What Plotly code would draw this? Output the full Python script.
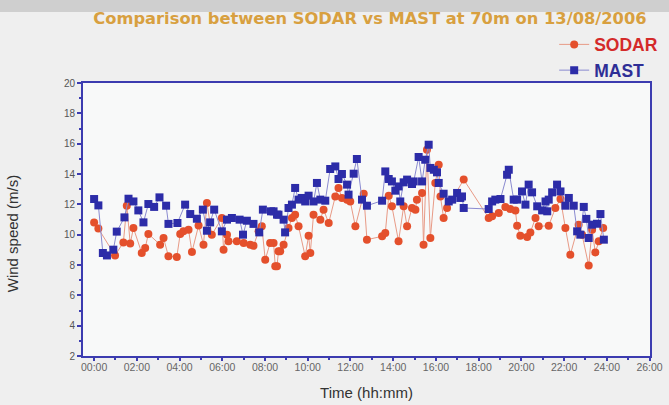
import plotly.graph_objects as go

# MAST (blue squares): time in hours, wind speed m/s
mast_t = [0.0, 0.2, 0.41, 0.6, 0.9, 1.06, 1.42, 1.61, 1.84, 2.07, 2.31, 2.54, 2.81, 3.06, 3.37, 3.48,
          3.9, 4.26, 4.5, 4.81, 5.09, 5.28, 5.43, 5.62, 5.98, 6.22, 6.45, 6.81, 6.97, 7.15, 7.46, 7.73,
          7.9, 8.28, 8.4, 8.56, 8.63, 8.87, 8.94, 9.1, 9.26, 9.41, 9.57, 9.73, 9.88, 10.04, 10.27, 10.43,
          10.59, 10.82, 11.05, 11.29, 11.44, 11.6, 11.84, 11.91, 12.15, 12.3, 12.54, 12.77, 13.48, 13.63,
          13.79, 13.94, 14.1, 14.25, 14.33, 14.49, 14.65, 14.88, 14.96, 15.19, 15.35, 15.5, 15.66, 15.74,
          15.9, 16.05, 16.13, 16.36, 16.6, 16.76, 16.99, 17.14, 17.22, 17.3, 18.47, 18.63, 18.78, 19.02,
          19.33, 19.41, 19.64, 19.8, 20.03, 20.19, 20.34, 20.5, 20.74, 20.97, 21.13, 21.21, 21.28, 21.44,
          21.67, 21.83, 22.06, 22.22, 22.45, 22.61, 22.76, 22.92, 23.04, 23.15, 23.31, 23.54, 23.7, 23.86]
mast_v = [12.35, 11.93, 8.79, 8.63, 9.01, 10.2, 11.14, 12.37, 12.19, 11.6, 10.81, 12.02, 11.83, 12.46, 11.91, 10.71,
          10.77, 11.98, 11.36, 11.05, 11.65, 10.26, 10.81, 11.65, 10.22, 10.99, 11.1, 10.99, 10.0, 10.92, 10.71, 10.15,
          11.65, 11.54, 11.54, 11.32, 11.32, 10.99, 10.15, 11.76, 11.98, 13.08, 12.31, 12.42, 12.19, 12.57, 12.19, 13.41,
          12.31, 12.24, 14.33, 14.5, 13.67, 14.0, 13.3, 12.64, 14.02, 14.99, 12.31, 11.91, 12.24, 14.17,
          13.67, 13.51, 12.9, 13.18, 12.19, 13.45, 13.63, 13.34, 13.51, 15.12, 13.51, 14.94, 15.93, 14.4,
          14.28, 14.11, 13.41, 12.7, 12.19, 12.31, 12.75, 12.42, 12.52, 11.76, 11.69, 12.19, 12.31, 12.35,
          13.95, 14.28, 12.31, 12.31, 12.85, 11.98, 13.3, 12.79, 11.87, 11.6, 12.19, 11.54, 12.31, 12.79,
          13.3, 12.85, 11.91, 12.42, 11.91, 10.22, 10.0, 11.83, 11.04, 9.78, 10.66, 10.72, 11.36, 9.67]

# SODAR (red circles)
sodar_t = [0.0, 0.2, 0.98, 1.37, 1.53, 1.69, 1.84, 2.23, 2.39, 2.54, 3.09, 3.25, 3.48, 3.87, 4.03, 4.18,
           4.42, 4.58, 4.89, 5.12, 5.28, 5.51, 5.98, 6.06, 6.22, 6.29, 6.68, 7.0, 7.31, 7.46, 7.7, 7.85,
           8.01, 8.24, 8.4, 8.48, 8.56, 8.63, 8.71, 8.87, 9.1, 9.26, 9.41, 9.57, 9.88, 10.04, 10.12, 10.27,
           10.59, 10.74, 10.98, 11.29, 11.44, 11.6, 11.84, 11.99, 12.23, 12.62, 12.77, 13.48, 13.63, 13.79,
           13.94, 14.25, 14.49, 14.65, 14.88, 15.04, 15.11, 15.35, 15.42, 15.58, 15.74, 15.97, 16.13, 16.21,
           16.36, 16.52, 17.3, 18.47, 18.63, 18.94, 19.25, 19.48, 19.72, 19.8, 19.95, 20.27, 20.42, 20.66,
           20.81, 21.28, 21.59, 21.83, 22.06, 22.29, 22.68, 22.84, 23.15, 23.31, 23.46, 23.62, 23.83]
sodar_v = [10.81, 10.4, 8.63, 9.49, 11.91, 9.41, 10.44, 8.79, 9.12, 10.05, 9.34, 9.78, 8.57, 8.53, 10.05, 10.22,
           10.33, 8.86, 10.6, 9.34, 12.09, 10.0, 11.1, 9.01, 10.0, 9.56, 9.56, 9.45, 9.34, 9.27, 10.22, 10.55,
           8.35, 9.45, 9.45, 7.91, 7.91, 8.9, 8.9, 9.34, 10.44, 11.1, 11.32, 10.55, 8.57, 9.93, 8.79, 11.32,
           10.99, 11.65, 10.77, 12.52, 13.08, 12.42, 12.31, 12.19, 10.55, 12.7, 9.67, 9.89, 10.11, 12.57,
           11.87, 9.56, 11.87, 10.55, 11.76, 11.65, 12.31, 12.75, 9.34, 15.6, 9.78, 13.41, 14.61, 12.52,
           11.1, 11.76, 13.63, 11.1, 11.21, 11.43, 11.83, 11.69, 11.6, 10.59, 9.93, 9.85, 10.15, 11.1,
           10.55, 10.59, 11.76, 12.35, 10.44, 8.68, 10.66, 10.0, 7.96, 10.33, 8.83, 9.56, 10.44]

x_tickvals = [0, 2, 4, 6, 8, 10, 12, 14, 16, 18, 20, 22, 24, 26]
x_ticktext = ["00:00", "02:00", "04:00", "06:00", "08:00", "10:00", "12:00", "14:00",
              "16:00", "18:00", "20:00", "22:00", "24:00", "26:00"]
y_tickvals = [2, 4, 6, 8, 10, 12, 14, 16, 18, 20]

RED = "#e4502c"
BLUE = "#2c2ca8"
AXIS = "#3c3cb0"

fig = go.Figure()
fig.add_trace(go.Scatter(
    x=sodar_t, y=sodar_v, mode="lines+markers",
    name="<b><span style='color:#d42a2a'>SODAR</span></b>",
    line=dict(color="#e89a86", width=1),
    marker=dict(symbol="circle", size=8, color=RED, line=dict(width=0)),
))
fig.add_trace(go.Scatter(
    x=mast_t, y=mast_v, mode="lines+markers",
    name="<b><span style='color:#2e2e96'>MAST</span></b>",
    line=dict(color="#8a8ad0", width=1),
    marker=dict(symbol="square", size=8, color=BLUE, line=dict(width=0)),
))

fig.update_layout(
    width=669, height=405,
    margin=dict(l=83, r=19, t=83, b=49, autoexpand=False),
    paper_bgcolor="#efefef",
    plot_bgcolor="#f8f9f9",
    font=dict(family="Liberation Sans, Arial, sans-serif", color="#444"),
    title=dict(text="<b>Comparison between SODAR vs MAST at 70m on 13/08/2006</b>",
               x=0.553, xanchor="center", y=0.955, yanchor="middle",
               font=dict(family="DejaVu Sans, sans-serif", size=16.3, color="#d8a040")),
    legend=dict(x=0.831, xanchor="left", y=1.0934, yanchor="middle",
                font=dict(size=17.5), bgcolor="rgba(0,0,0,0)",
                itemwidth=30, tracegroupgap=0, traceorder="normal"),
    showlegend=True,
    shapes=[dict(type="rect", xref="paper", yref="paper", x0=-0.2, x1=1.1,
                 y0=1.0 + 71/273, y1=1.0 + 90/273, fillcolor="#cfcfcf", line=dict(width=0),
                 layer="below")],
    annotations=[dict(text="Wind speed (m/s)", xref="paper", yref="paper",
                      x=-0.125, y=0.45, xanchor="center", yanchor="middle",
                      textangle=-90, showarrow=False,
                      font=dict(size=15, color="#333"))],
)
fig.update_xaxes(
    range=[-0.52, 26.02], tickvals=x_tickvals, ticktext=x_ticktext,
    showgrid=False, zeroline=False,
    showline=True, linecolor=AXIS, linewidth=2, mirror=True,
    ticks="outside", ticklen=3, tickcolor=AXIS, tickwidth=1.5,
    minor=dict(dtick=1, tick0=0, ticks="outside", ticklen=2, tickcolor=AXIS),
    tickfont=dict(size=10.5, color="#666"), ticklabelstandoff=-3,
    title=dict(text="Time (hh:mm)", font=dict(size=15, color="#333"), standoff=16),
)
fig.update_yaxes(
    range=[2, 20], tickvals=y_tickvals,
    showgrid=False, zeroline=False,
    showline=True, linecolor=AXIS, linewidth=2, mirror=True,
    ticks="outside", ticklen=4, tickcolor=AXIS, tickwidth=1.5,
    minor=dict(dtick=1, tick0=0, ticks="outside", ticklen=2, tickcolor=AXIS),
    tickfont=dict(size=10, color="#555"),
)

fig.write_html("out.html", config={"displayModeBar": False},
               post_script="document.body.style.margin='0';")
